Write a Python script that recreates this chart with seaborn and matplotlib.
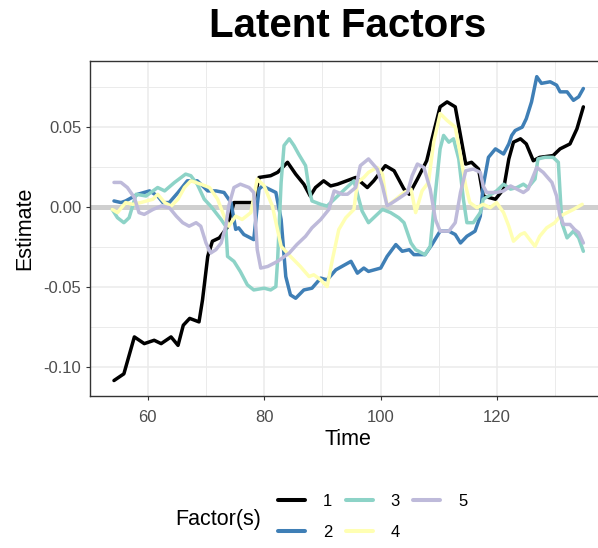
import seaborn as sns
import matplotlib.pyplot as plt
import pandas as pd

sns.set_style("white")
plt.rcParams['font.family'] = ['Liberation Sans', 'DejaVu Sans']
plt.rcParams['axes.unicode_minus'] = False
plt.rcParams['text.color'] = 'black'
plt.rcParams['axes.labelcolor'] = 'black'

# values
t1 = [54.2, 55.9, 57.7, 59.4, 61.1, 62.3, 64.0, 65.2, 66.1, 67.2, 68.8, 69.4, 70.3, 71.1, 72.3, 73.6, 74.8, 78.2,
      79.1, 81.1, 82.3, 84.0, 85.4, 86.8, 87.9, 88.8, 90.2, 91.4, 92.6, 95.7, 97.7, 98.8, 100.8, 102.3, 104.0, 104.9,
      106.3, 107.9, 109.1, 110.2, 111.4, 112.8, 113.7, 114.6, 115.6, 116.8, 117.6, 119.7, 121.1, 122.0, 122.8, 124.0,
      125.0, 126.2, 127.3, 129.6, 130.8, 132.5, 133.7, 134.8]
f1 = [-0.1086, -0.1044, -0.0813, -0.0855, -0.0834, -0.0855, -0.0813, -0.0866, -0.074, -0.0697, -0.0719, -0.0582,
      -0.0309, -0.0214, -0.0193, -0.013, 0.0028, 0.0028, 0.0185, 0.0196, 0.0217, 0.028, 0.0206, 0.0143, 0.0069, 0.0122,
      0.0164, 0.0132, 0.0143, 0.0185, 0.0122, 0.0164, 0.0259, 0.0227, 0.0112, 0.008, 0.0175, 0.029, 0.0469, 0.0627,
      0.0658, 0.0627, 0.0448, 0.0269, 0.028, 0.0238, 0.0069, 0.0049, 0.0112, 0.0301, 0.0406, 0.0427, 0.0395, 0.029,
      0.0311, 0.0322, 0.0364, 0.0395, 0.049, 0.0627]

t2 = [54.2, 55.4, 56.2, 58.3, 60.3, 61.7, 62.6, 63.7, 65.2, 66.8, 68.5, 70.3, 71.7, 73.1, 74.3, 75.1, 75.6, 76.5,
      78.2, 79.1, 79.7, 82.0, 82.9, 83.7, 84.5, 85.4, 86.8, 88.2, 89.7, 90.8, 92.3, 94.9, 96.0, 97.1, 97.9, 100.0,
      101.1, 102.6, 103.7, 104.9, 105.7, 107.6, 108.8, 110.2, 111.7, 112.8, 113.7, 114.8, 116.2, 117.1, 117.6, 118.5,
      119.7, 121.1, 122.0, 122.5, 123.1, 124.3, 125.0, 125.9, 126.8, 127.6, 129.1, 130.2, 130.8, 132.0, 133.1, 134.0,
      134.8]
f2 = [0.0038, 0.0028, 0.0038, 0.008, 0.0101, 0.0069, 0.0028, 0.0028, 0.0091, 0.0164, 0.0164, 0.0101, 0.0101, 0.0091,
      0.0028, -0.014, -0.013, -0.0172, -0.0204, 0.0112, 0.0132, 0.0091, -0.0078, -0.0435, -0.055, -0.0571, -0.0519,
      -0.0508, -0.0445, -0.0456, -0.0393, -0.034, -0.0414, -0.0382, -0.0403, -0.0382, -0.0309, -0.0235, -0.0277,
      -0.0267, -0.0298, -0.0298, -0.0235, -0.0151, -0.0151, -0.0172, -0.0225, -0.0183, -0.0151, -0.0057, 0.0132,
      0.0311, 0.0364, 0.0332, 0.0395, 0.0448, 0.0479, 0.05, 0.0553, 0.0658, 0.0816, 0.0774, 0.0784, 0.0763, 0.0721,
      0.0721, 0.0668, 0.069, 0.0742]

t3 = [53.9, 54.8, 55.9, 56.8, 58.0, 59.7, 61.7, 62.9, 64.6, 66.5, 67.4, 68.5, 69.7, 70.8, 72.6, 73.4, 73.7, 74.8,
      75.9, 77.1, 78.2, 80.0, 81.1, 82.0, 82.3, 82.9, 83.4, 84.3, 85.1, 85.9, 87.1, 87.7, 88.2, 89.7, 90.8, 92.6, 95.4,
      96.8, 97.9, 100.3, 101.7, 103.1, 104.0, 105.2, 106.0, 107.6, 108.5, 109.4, 110.2, 110.8, 111.7, 112.5, 113.4,
      114.2, 114.8, 115.9, 117.1, 117.6, 118.5, 119.9, 121.1, 122.3, 123.4, 124.5, 125.3, 126.5, 127.0, 128.2, 129.6,
      130.5, 131.1, 132.0, 133.1, 134.0, 134.8]
f3 = [-0.0015, -0.0067, -0.0098, -0.0067, 0.008, 0.0069, 0.0122, 0.0101, 0.0154, 0.0206, 0.0196, 0.0143, 0.0049,
      0.0006, -0.0078, -0.012, -0.0309, -0.034, -0.0404, -0.0487, -0.0519, -0.0508, -0.0519, -0.0498, -0.033, 0.0154,
      0.0385, 0.0427, 0.0385, 0.0332, 0.0259, 0.0112, 0.0038, 0.0017, 0.0006, 0.0069, 0.0164, -0.0025, -0.0098,
      -0.0015, -0.0035, -0.0067, -0.0098, -0.0225, -0.0267, -0.0298, -0.0246, 0.0091, 0.0364, 0.0448, 0.0406, 0.0427,
      0.0301, 0.0049, -0.0098, -0.0098, -0.0035, 0.0049, 0.0069, 0.0101, 0.0143, 0.0112, 0.0122, 0.0143, 0.0122,
      0.0175, 0.0301, 0.0311, 0.0311, 0.028, -0.0098, -0.0193, -0.0151, -0.0193, -0.0277]

t4 = [53.9, 54.8, 56.2, 57.4, 58.8, 60.9, 61.7, 62.9, 64.0, 65.2, 66.3, 67.4, 69.1, 70.6, 72.0, 73.1, 73.9, 75.1,
      76.2, 77.7, 78.8, 80.0, 81.4, 82.9, 84.5, 86.2, 87.7, 88.5, 89.7, 90.8, 91.7, 92.8, 94.0, 95.4, 96.0, 97.1, 97.9,
      99.4, 100.3, 101.1, 102.6, 104.0, 105.2, 106.0, 107.1, 108.2, 109.1, 110.2, 111.4, 112.8, 113.7, 114.6, 115.3,
      116.5, 117.6, 118.8, 119.9, 121.1, 122.0, 122.8, 124.0, 124.7, 125.6, 126.5, 127.3, 128.5, 129.9, 130.8, 132.0,
      133.1, 134.6]
f4 = [-0.0015, -0.0035, 0.0028, 0.0017, 0.0028, 0.0049, 0.008, 0.0028, 0.0006, 0.0049, 0.0122, 0.0164, 0.0143,
      0.0122, 0.0049, -0.0057, -0.012, -0.0057, -0.0078, -0.0035, 0.0175, 0.0132, 0.0006, -0.0246, -0.0309, -0.0372,
      -0.0435, -0.0424, -0.0456, -0.0498, -0.033, -0.0141, -0.0067, -0.0015, 0.0154, 0.0185, 0.0217, 0.0248, 0.0206,
      0.0006, 0.0049, 0.0091, 0.0112, -0.0035, 0.0101, 0.0154, 0.0406, 0.0585, 0.0542, 0.05, 0.0322, 0.0132, 0.0028,
      -0.0004, 0.0017, -0.0004, 0.0028, -0.0035, -0.012, -0.0214, -0.0172, -0.0161, -0.0204, -0.0246, -0.0183, -0.013,
      -0.0098, -0.0057, -0.0035, -0.0015, 0.0017]

t5 = [54.2, 55.4, 56.5, 57.7, 58.5, 59.4, 60.9, 62.3, 63.7, 64.9, 66.0, 67.1, 68.3, 69.1, 70.0, 70.8, 71.7, 72.6,
      73.4, 73.9, 74.8, 75.9, 77.4, 78.2, 78.8, 79.4, 80.6, 82.3, 84.3, 85.6, 87.1, 88.2, 89.7, 91.1, 92.0, 93.4, 94.3,
      95.7, 96.5, 97.9, 99.4, 100.3, 101.1, 102.9, 104.6, 105.4, 106.3, 107.4, 108.5, 109.4, 110.2, 111.7, 112.8,
      113.7, 114.6, 115.9, 117.1, 117.6, 118.2, 119.9, 121.1, 122.3, 123.4, 124.5, 125.3, 126.8, 127.9, 129.4, 130.2,
      130.8, 131.4, 132.5, 133.3, 134.0, 134.8]
f5 = [0.0154, 0.0154, 0.0122, 0.0059, -0.0035, -0.0046, -0.0015, 0.0006, -0.0004, -0.0057, -0.0098, -0.012, -0.0098,
      -0.012, -0.0225, -0.0288, -0.0267, -0.0225, -0.012, 0.0006, 0.0122, 0.0143, 0.0122, 0.0091, -0.0267, -0.0382,
      -0.0372, -0.034, -0.0288, -0.0235, -0.0183, -0.013, -0.0078, -0.0015, 0.0101, 0.008, 0.008, 0.0122, 0.0259,
      0.0301, 0.0238, 0.0132, 0.0006, 0.0049, 0.0091, 0.0196, 0.0269, 0.0248, 0.0112, -0.0078, -0.0151, -0.0151,
      -0.0098, 0.0091, 0.0227, 0.0238, 0.0217, 0.0132, 0.0091, 0.0091, 0.0101, 0.0132, 0.0112, 0.0091, 0.0112, 0.0248,
      0.0217, 0.0154, 0.0069, -0.0057, -0.0109, -0.0109, -0.0141, -0.0161, -0.0225]

factors = ['1', '2', '3', '4', '5']
colors = ['#000000', '#3F7FB6', '#8DD3C7', '#FFFFB3', '#BEBADA']
x_ticks = [60, 80, 100, 120]
y_ticks = [-0.10, -0.05, 0.00, 0.05]
y_tick_labels = ['-0.10', '-0.05', '0.00', '0.05']

df = pd.concat([pd.DataFrame({'Time': t, 'Estimate': v, 'Factor(s)': name})
                for name, t, v in zip(factors, [t1, t2, t3, t4, t5], [f1, f2, f3, f4, f5])])

fig = plt.figure(figsize=(5.98, 5.48), dpi=100)
ax = fig.add_axes([0.1497, 0.2779, 0.8640, 0.6099])

ax.axhline(0, color='#CFCFCF', linewidth=3.6, zorder=1.5)
sns.lineplot(data=df, x='Time', y='Estimate', hue='Factor(s)', hue_order=factors,
             palette=dict(zip(factors, colors)), estimator=None, sort=False,
             linewidth=2.5, ax=ax, zorder=2)

ax.set_xlim(50.24, 138.72)
ax.set_ylim(-0.1181, 0.0911)
ax.set_xticks(x_ticks)
ax.set_xticks([50, 70, 90, 110, 130], minor=True)
ax.set_yticks(y_ticks)
ax.set_yticklabels(y_tick_labels)
ax.set_yticks([-0.075, -0.025, 0.025, 0.075], minor=True)
ax.grid(which='major', color='#EBEBEB', linewidth=1.1)
ax.grid(which='minor', color='#EBEBEB', linewidth=0.7)
ax.set_axisbelow(True)
ax.tick_params(which='minor', length=0)
ax.tick_params(which='major', bottom=True, left=True, length=3, width=0.8, color='#333333',
               labelcolor='#4D4D4D', labelsize=12)
ax.tick_params(axis='x', pad=7.5)
ax.tick_params(axis='y', pad=3)
for s in ax.spines.values():
    s.set_color('#333333')
    s.set_linewidth(1.0)

ax.set_title('Latent Factors', fontsize=29, fontweight='bold', pad=17.5, color='black')
ax.set_xlabel('Time', fontsize=15.5, labelpad=3)
ax.set_ylabel('Estimate', fontsize=15.5, labelpad=6)

handles, labels = ax.get_legend_handles_labels()
ax.get_legend().remove()
for h in handles:
    h.set_linewidth(2.9)
fig.legend(handles, labels, ncol=3, loc='center left', bbox_to_anchor=(0.4649, 0.0568),
           frameon=False, fontsize=12, handlelength=1.62, handletextpad=1.08,
           columnspacing=0.8, labelspacing=1.0, borderpad=0, borderaxespad=0)
fig.text(0.2926, 0.0511, 'Factor(s)', fontsize=15.5, ha='left', va='center')

fig.savefig('out.png', dpi=100)
